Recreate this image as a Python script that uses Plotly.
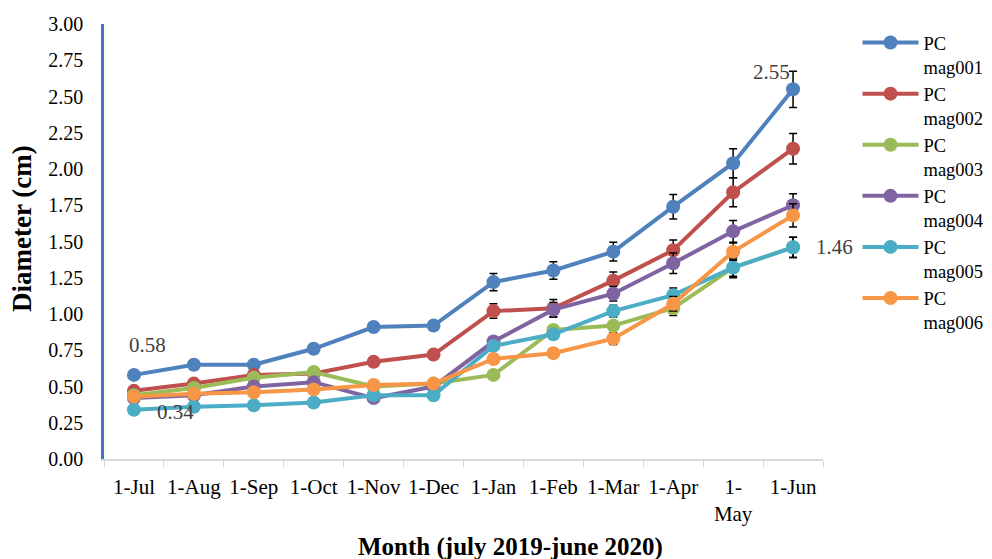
import plotly.graph_objects as go

months = ["1-Jul", "1-Aug", "1-Sep", "1-Oct", "1-Nov", "1-Dec", "1-Jan", "1-Feb", "1-Mar", "1-Apr", "1-<br>May", "1-Jun"]
series_names = ["PC<br>mag001", "PC<br>mag002", "PC<br>mag003", "PC<br>mag004", "PC<br>mag005", "PC<br>mag006"]

mag001 = [0.58, 0.65, 0.65, 0.76, 0.91, 0.92, 1.22, 1.30, 1.43, 1.74, 2.04, 2.55]
mag002 = [0.47, 0.52, 0.58, 0.59, 0.67, 0.72, 1.02, 1.04, 1.23, 1.44, 1.84, 2.14]
mag003 = [0.44, 0.49, 0.56, 0.60, 0.50, 0.52, 0.58, 0.89, 0.92, 1.04, 1.32, 1.46]
mag004 = [0.42, 0.44, 0.50, 0.53, 0.42, 0.50, 0.81, 1.03, 1.14, 1.35, 1.57, 1.75]
mag005 = [0.34, 0.36, 0.37, 0.39, 0.44, 0.44, 0.78, 0.86, 1.02, 1.13, 1.32, 1.46]
mag006 = [0.43, 0.45, 0.46, 0.48, 0.51, 0.52, 0.69, 0.73, 0.83, 1.07, 1.43, 1.68]

err001 = [0.02, 0.02, 0.02, 0.03, 0.03, 0.03, 0.06, 0.06, 0.065, 0.085, 0.10, 0.125]
err002 = [0.02, 0.02, 0.02, 0.02, 0.02, 0.03, 0.05, 0.06, 0.06, 0.07, 0.10, 0.105]
err003 = [0.02, 0.02, 0.02, 0.02, 0.02, 0.02, 0.02, 0.02, 0.03, 0.05, 0.06, 0.07]
err004 = [0.02, 0.02, 0.02, 0.02, 0.02, 0.02, 0.03, 0.05, 0.05, 0.07, 0.075, 0.08]
err005 = [0.02, 0.02, 0.02, 0.02, 0.02, 0.02, 0.03, 0.03, 0.04, 0.05, 0.07, 0.07]
err006 = [0.02, 0.02, 0.02, 0.02, 0.02, 0.02, 0.03, 0.03, 0.04, 0.05, 0.06, 0.08]

colors = ["#4F81BD", "#C0504D", "#9BBB59", "#8064A2", "#4BACC6", "#F79646"]
values = [mag001, mag002, mag003, mag004, mag005, mag006]
errors = [err001, err002, err003, err004, err005, err006]

font_family = "Liberation Serif"

fig = go.Figure()
for name, vals, errs, col in zip(series_names, values, errors, colors):
    fig.add_trace(go.Scatter(
        x=months, y=vals, name=name, mode="lines+markers",
        line=dict(color=col, width=4),
        marker=dict(color=col, size=14),
        error_y=dict(type="data", array=errs, visible=True, color="black", thickness=1.5, width=4),
    ))

# data labels
labels = [
    (months[0], mag001[0], "0.58", 14, 30),
    (months[-1], mag001[-1], "2.55", -22, 17),
    (months[0], mag005[0], "0.34", 42, -2),
    (months[-1], mag005[-1], "1.46", 41, 0),
]
for xv, yv, txt, ax, ay in labels:
    fig.add_annotation(x=xv, y=yv, text=txt, showarrow=False, xshift=ax, yshift=ay,
                       font=dict(family=font_family, size=21, color="#404040"))

# axis titles
fig.add_annotation(xref="paper", yref="paper", x=0.566, y=-0.202, text="<b>Month (july 2019-june 2020)</b>",
                   showarrow=False, xanchor="center", yanchor="middle",
                   font=dict(family=font_family, size=25, color="black"))
fig.add_annotation(xref="paper", yref="paper", x=-0.114, y=0.529, text="<b>Diameter (cm)</b>",
                   showarrow=False, textangle=-90, xanchor="center", yanchor="middle",
                   font=dict(family=font_family, size=27, color="black"))

fig.update_layout(
    width=992, height=559,
    margin=dict(l=104, r=169, t=24, b=100, autoexpand=False),
    paper_bgcolor="white", plot_bgcolor="white",
    font=dict(family=font_family, size=20, color="black"),
    showlegend=True,
    legend=dict(x=1.048, y=1.0, xanchor="left", yanchor="top", tracegroupgap=0, valign="top",
                maxheight=1.0, itemwidth=56,
                font=dict(family=font_family, size=18.5, color="black"),
                bgcolor="rgba(0,0,0,0)"),
    xaxis=dict(
        type="category", range=[-0.5, 11.5], automargin=False,
        showline=True, linecolor="#D9D9D9", linewidth=1.5,
        ticks="outside", tickson="boundaries", ticklen=6, tickcolor="#D9D9D9",
        showgrid=False, tickfont=dict(size=21), tickangle=0, ticklabelstandoff=8,
    ),
    yaxis=dict(
        range=[0, 3], dtick=0.25, tickformat=".2f", automargin=False,
        showline=True, linecolor="#4472C4", linewidth=2.5,
        showgrid=False, zeroline=False, ticks="", tickfont=dict(size=20), ticklabelstandoff=14,
    ),
)

fig.write_html("out.html")
